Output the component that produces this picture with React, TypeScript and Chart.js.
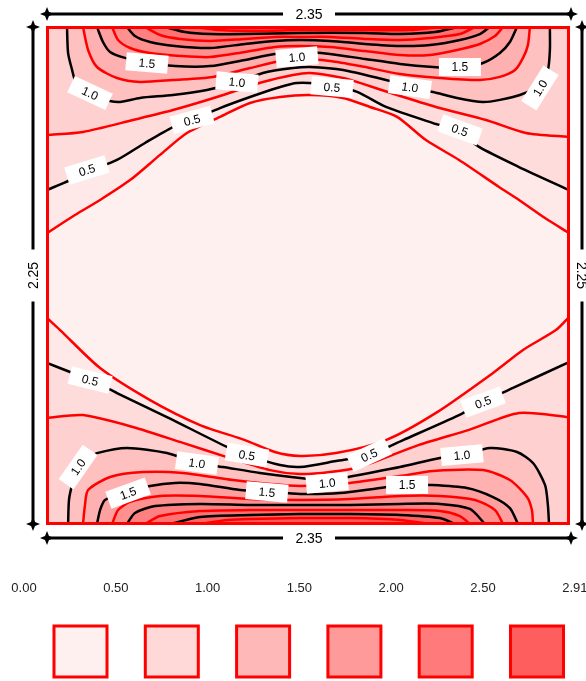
import React, { useEffect, useRef } from "react";
import { Chart, registerables } from "chart.js";

Chart.register(...registerables);

// Plate dimensions (m)
const plateWidth = 2.35;
const plateHeight = 2.25;

// Contour levels
const contourLevels = [0.25, 0.5, 0.75, 1.0, 1.25, 1.5, 1.75, 2.0, 2.25, 2.5, 2.75];

// Fill colour of each band (below first level ... above last level)
const bandColors = [
  "#fff0f0", "#ffe8e8", "#ffdcdc", "#ffd0d0", "#ffc0c0", "#ffb0b0",
  "#ffa0a0", "#ff9090", "#ff8080", "#ff7272", "#ff6464", "#ff5a5a",
];

// Legend (colour scale)
const legendTicks = ["0.00", "0.50", "1.00", "1.50", "2.00", "2.50", "2.91"];
const legendColors = ["#fff0f0", "#ffd8d8", "#ffb8b8", "#ff9a9a", "#ff7a7a", "#ff5e5e"];

// ---- Upper half contours [x (m), y (m)] ----
const upper025 = [[0,1.317],[0.126,1.399],[0.239,1.467],[0.374,1.557],[0.509,1.671],[0.630,1.770],[0.779,1.843],[0.914,1.906],[1.049,1.933],[1.184,1.942],[1.333,1.929],[1.454,1.888],[1.576,1.843],[1.706,1.738],[1.855,1.648],[2.035,1.526],[2.125,1.467],[2.242,1.385],[2.35,1.317]];
const upper050 = [[0,1.512],[0.104,1.557],[0.180,1.594],[0.315,1.648],[0.441,1.725],[0.567,1.797],[0.653,1.829],[0.779,1.883],[0.914,1.933],[1.035,1.974],[1.125,1.997],[1.274,1.987],[1.396,1.956],[1.526,1.888],[1.738,1.815],[1.841,1.784],[1.945,1.707],[2.125,1.616],[2.35,1.512]];
const upper075 = [[0,1.761],[0.162,1.775],[0.387,1.829],[0.567,1.874],[0.765,1.933],[0.972,2.001],[1.107,2.033],[1.184,2.042],[1.333,2.019],[1.409,1.997],[1.576,1.942],[1.751,1.888],[1.976,1.829],[2.156,1.770],[2.35,1.752]];
const upper100 = [[0.090,2.25],[0.095,2.132],[0.113,2.055],[0.126,2.010],[0.158,1.974],[0.239,1.929],[0.320,1.910],[0.419,1.929],[0.567,1.942],[0.720,1.965],[0.860,2.001],[0.972,2.042],[1.107,2.064],[1.184,2.069],[1.333,2.055],[1.576,1.997],[1.634,1.978],[1.738,1.956],[1.846,1.929],[1.963,1.910],[2.039,1.920],[2.129,1.942],[2.219,1.987],[2.255,2.055],[2.264,2.146],[2.264,2.25]];
const upper125 = [[0.162,2.25],[0.185,2.146],[0.225,2.069],[0.315,2.019],[0.419,2.001],[0.567,2.010],[0.747,2.024],[0.914,2.064],[1.049,2.096],[1.139,2.105],[1.274,2.096],[1.409,2.073],[1.589,2.037],[1.769,2.019],[1.949,2.010],[2.039,2.024],[2.107,2.055],[2.143,2.110],[2.165,2.168],[2.174,2.25]];
const upper150 = [[0.225,2.25],[0.252,2.182],[0.284,2.137],[0.351,2.110],[0.450,2.087],[0.576,2.073],[0.734,2.073],[0.891,2.101],[1.026,2.128],[1.139,2.137],[1.274,2.128],[1.432,2.105],[1.589,2.083],[1.738,2.069],[1.850,2.064],[1.963,2.087],[2.039,2.132],[2.084,2.182],[2.116,2.25]];
const upper175 = [[0.293,2.25],[0.320,2.191],[0.374,2.155],[0.464,2.132],[0.599,2.119],[0.734,2.114],[0.891,2.137],[1.026,2.159],[1.139,2.164],[1.274,2.159],[1.432,2.141],[1.589,2.123],[1.724,2.123],[1.846,2.146],[1.949,2.173],[2.017,2.209],[2.053,2.25]];
const upper200 = [[0.360,2.25],[0.396,2.209],[0.464,2.182],[0.576,2.164],[0.734,2.155],[0.891,2.173],[1.026,2.187],[1.139,2.191],[1.274,2.187],[1.432,2.173],[1.589,2.164],[1.724,2.168],[1.859,2.191],[1.949,2.218],[1.994,2.25]];
const upper225 = [[0.441,2.25],[0.509,2.214],[0.599,2.196],[0.734,2.187],[0.891,2.196],[1.026,2.205],[1.139,2.205],[1.274,2.205],[1.432,2.196],[1.589,2.191],[1.724,2.200],[1.859,2.218],[1.927,2.25]];
const upper250 = [[0.531,2.25],[0.621,2.227],[0.734,2.218],[0.891,2.218],[1.139,2.223],[1.432,2.223],[1.589,2.218],[1.747,2.227],[1.850,2.25]];
const upper275 = [[0.666,2.25],[0.779,2.236],[0.959,2.232],[1.139,2.236],[1.409,2.236],[1.634,2.236],[1.769,2.25]];

// ---- Lower half contours [x (m), y (m)] ----
const lower025 = [[0,0.933],[0.059,0.878],[0.239,0.706],[0.464,0.561],[0.689,0.448],[0.891,0.380],[1.026,0.326],[1.139,0.308],[1.301,0.321],[1.526,0.380],[1.751,0.503],[2.008,0.684],[2.143,0.788],[2.291,0.878],[2.35,0.937]];
const lower050 = [[0,0.729],[0.104,0.688],[0.194,0.652],[0.315,0.593],[0.540,0.484],[0.810,0.349],[0.900,0.312],[1.049,0.267],[1.139,0.258],[1.301,0.285],[1.450,0.312],[1.603,0.380],[1.855,0.493],[1.963,0.552],[2.098,0.616],[2.35,0.733]];
const lower075 = [[0,0.480],[0.162,0.493],[0.387,0.439],[0.612,0.367],[0.810,0.303],[1.004,0.244],[1.139,0.226],[1.274,0.235],[1.409,0.258],[1.675,0.358],[1.900,0.426],[2.125,0.503],[2.35,0.484]];
const lower100 = [[0.095,0],[0.099,0.109],[0.113,0.177],[0.135,0.244],[0.185,0.299],[0.225,0.321],[0.360,0.344],[0.540,0.321],[0.675,0.276],[0.792,0.258],[0.959,0.231],[1.139,0.208],[1.274,0.195],[1.378,0.217],[1.589,0.258],[1.769,0.299],[1.868,0.312],[1.994,0.344],[2.116,0.326],[2.188,0.276],[2.242,0.177],[2.255,0.086],[2.260,0]];
const lower125 = [[0.162,0],[0.171,0.086],[0.185,0.154],[0.284,0.213],[0.432,0.235],[0.612,0.231],[0.837,0.199],[1.004,0.181],[1.139,0.172],[1.319,0.181],[1.589,0.217],[1.738,0.240],[1.963,0.244],[2.084,0.199],[2.161,0.122],[2.183,0.063],[2.188,0]];
const lower150 = [[0.225,0],[0.239,0.063],[0.261,0.109],[0.342,0.140],[0.464,0.172],[0.576,0.186],[0.689,0.181],[0.869,0.154],[1.004,0.145],[1.139,0.136],[1.319,0.140],[1.499,0.163],[1.621,0.177],[1.724,0.177],[1.891,0.163],[2.008,0.122],[2.084,0.072],[2.120,0]];
const lower175 = [[0.293,0],[0.320,0.063],[0.374,0.100],[0.509,0.127],[0.689,0.127],[0.914,0.113],[1.139,0.109],[1.364,0.113],[1.589,0.127],[1.769,0.127],[1.927,0.109],[2.017,0.063],[2.053,0]];
const lower200 = [[0.360,0],[0.396,0.050],[0.486,0.081],[0.689,0.091],[0.914,0.086],[1.139,0.086],[1.364,0.086],[1.589,0.091],[1.769,0.091],[1.904,0.068],[1.972,0]];
const lower225 = [[0.441,0],[0.509,0.036],[0.689,0.059],[0.914,0.063],[1.139,0.063],[1.364,0.063],[1.589,0.063],[1.769,0.059],[1.859,0.036],[1.904,0]];
const lower250 = [[0.554,0],[0.689,0.032],[0.914,0.041],[1.139,0.045],[1.364,0.045],[1.589,0.041],[1.769,0.027],[1.837,0]];
const lower275 = [[0.689,0],[0.814,0.018],[0.914,0.023],[1.139,0.027],[1.364,0.027],[1.589,0.018],[1.724,0]];

const upperContours = [upper025, upper050, upper075, upper100, upper125, upper150, upper175, upper200, upper225, upper250, upper275];
const lowerContours = [lower025, lower050, lower075, lower100, lower125, lower150, lower175, lower200, lower225, lower250, lower275];

// Contour labels: [text, x (m), y (m), angle (deg)]
const contourLabels: [string, number, number, number][] = [
  ["1.5", 0.450, 2.087, 5],
  ["1.0", 0.194, 1.951, 25],
  ["1.0", 0.855, 2.001, 5],
  ["1.0", 1.125, 2.114, -5],
  ["0.5", 0.180, 1.603, -17],
  ["0.5", 0.653, 1.829, -15],
  ["0.5", 1.283, 1.978, 5],
  ["1.0", 1.634, 1.978, 8],
  ["1.5", 1.859, 2.069, 0],
  ["1.0", 2.219, 1.974, -58],
  ["0.5", 1.859, 1.784, 20],
  ["0.5", 0.194, 0.652, 14],
  ["1.0", 0.140, 0.258, -55],
  ["1.5", 0.365, 0.140, -20],
  ["1.0", 0.675, 0.276, 8],
  ["0.5", 0.900, 0.312, 10],
  ["1.5", 0.990, 0.145, 5],
  ["1.0", 1.261, 0.186, -5],
  ["0.5", 1.450, 0.312, -25],
  ["1.5", 1.621, 0.177, 0],
  ["1.0", 1.868, 0.312, -5],
  ["0.5", 1.963, 0.552, -20],
];

const FONT = '"Liberation Sans", Arial, sans-serif';

function drawStar(ctx: CanvasRenderingContext2D, x: number, y: number) {
  ctx.beginPath();
  ctx.moveTo(x, y - 7);
  ctx.lineTo(x + 2, y - 2);
  ctx.lineTo(x + 7, y);
  ctx.lineTo(x + 2, y + 2);
  ctx.lineTo(x, y + 7);
  ctx.lineTo(x - 2, y + 2);
  ctx.lineTo(x - 7, y);
  ctx.lineTo(x - 2, y - 2);
  ctx.closePath();
  ctx.fill();
}

function drawDimension(ctx: CanvasRenderingContext2D, x1: number, y1: number, x2: number, y2: number, text: string, rot: number) {
  ctx.save();
  ctx.strokeStyle = "#000";
  ctx.fillStyle = "#000";
  ctx.lineWidth = 3;
  ctx.beginPath();
  ctx.moveTo(x1, y1);
  ctx.lineTo(x2, y2);
  ctx.stroke();
  drawStar(ctx, x1, y1);
  drawStar(ctx, x2, y2);
  const cx = (x1 + x2) / 2;
  const cy = (y1 + y2) / 2;
  ctx.translate(cx, cy);
  ctx.rotate(rot);
  ctx.fillStyle = "#fff";
  ctx.fillRect(-26, -8, 52, 16);
  ctx.fillStyle = "#000";
  ctx.font = `14px ${FONT}`;
  ctx.textAlign = "center";
  ctx.textBaseline = "middle";
  ctx.fillText(text, 0, 1);
  ctx.restore();
}

const plotBackground = {
  id: "plotBackground",
  beforeDatasetsDraw(chart: any) {
    const { ctx, chartArea: a } = chart;
    ctx.save();
    ctx.fillStyle = bandColors[0];
    ctx.fillRect(a.left, a.top, a.right - a.left, a.bottom - a.top);
    ctx.restore();
  },
};

const decorations = {
  id: "decorations",
  afterDatasetsDraw(chart: any) {
    const { ctx, chartArea: a } = chart;
    const xs = chart.scales.x;
    const ys = chart.scales.y;

    // plate border
    ctx.save();
    ctx.strokeStyle = "#ff0000";
    ctx.lineWidth = 3;
    ctx.strokeRect(a.left + 0.5, a.top + 0.5, a.right - a.left - 1, a.bottom - a.top - 1);
    ctx.restore();

    // contour labels
    contourLabels.forEach(([text, x, y, ang]) => {
      const px = xs.getPixelForValue(x);
      const py = ys.getPixelForValue(y);
      ctx.save();
      ctx.translate(px, py);
      ctx.rotate((ang * Math.PI) / 180);
      ctx.fillStyle = "#fff";
      ctx.fillRect(-21, -9, 42, 18);
      ctx.fillStyle = "#000";
      ctx.font = `12px ${FONT}`;
      ctx.textAlign = "center";
      ctx.textBaseline = "middle";
      ctx.fillText(text, 0, 1);
      ctx.restore();
    });

    // dimension lines
    const wTxt = plateWidth.toFixed(2);
    const hTxt = plateHeight.toFixed(2);
    drawDimension(ctx, a.left, a.top - 13, a.right + 2, a.top - 13, wTxt, 0);
    drawDimension(ctx, a.left, a.bottom + 14, a.right + 2, a.bottom + 14, wTxt, 0);
    drawDimension(ctx, a.left - 14, a.top, a.left - 14, a.bottom, hTxt, -Math.PI / 2);
    drawDimension(ctx, a.right + 13, a.top, a.right + 13, a.bottom, hTxt, Math.PI / 2);

    // colour-scale legend
    ctx.save();
    ctx.font = `13px ${FONT}`;
    ctx.fillStyle = "#222";
    ctx.textAlign = "center";
    ctx.textBaseline = "middle";
    legendTicks.forEach((t, i) => {
      ctx.fillText(t, 24 + i * 91.8, 588);
    });
    legendColors.forEach((c, i) => {
      const left = 54 + i * 91.3;
      ctx.fillStyle = c;
      ctx.fillRect(left, 626, 53, 51);
      ctx.strokeStyle = "#ff0000";
      ctx.lineWidth = 3;
      ctx.strokeRect(left, 626, 53, 51);
    });
    ctx.restore();
  },
};

function isMajor(level: number) {
  return Math.round(level * 4) % 2 === 0;
}

export default function App() {
  const canvasRef = useRef<HTMLCanvasElement | null>(null);

  useEffect(() => {
    const canvas = canvasRef.current;
    if (!canvas) return;

    const datasets: any[] = [];
    contourLevels.forEach((lv, k) => {
      const common = {
        borderColor: isMajor(lv) ? "#000000" : "#ff0000",
        borderWidth: 2.5,
        backgroundColor: bandColors[k + 1],
        pointRadius: 0,
        tension: 0.25,
        order: 100 - k,
      };
      datasets.push({
        ...common,
        label: `upper ${lv}`,
        data: upperContours[k].map(([x, y]) => ({ x, y })),
        fill: "end",
      });
      datasets.push({
        ...common,
        label: `lower ${lv}`,
        data: lowerContours[k].map(([x, y]) => ({ x, y })),
        fill: "start",
      });
    });

    const chart = new Chart(canvas, {
      type: "line",
      data: { datasets },
      options: {
        animation: false,
        responsive: false,
        events: [],
        layout: { padding: { left: 47, right: 17, top: 27, bottom: 157 } },
        scales: {
          x: { type: "linear", min: 0, max: plateWidth, display: false },
          y: { type: "linear", min: 0, max: plateHeight, display: false },
        },
        plugins: {
          legend: { display: false },
          tooltip: { enabled: false },
        },
      },
      plugins: [plotBackground, decorations],
    });

    return () => chart.destroy();
  }, []);

  return (
    <div style={{ position: "absolute", left: 0, top: 0, width: 586, height: 681, background: "#fff" }}>
      <canvas ref={canvasRef} width={586} height={681} style={{ width: 586, height: 681 }} />
    </div>
  );
}
